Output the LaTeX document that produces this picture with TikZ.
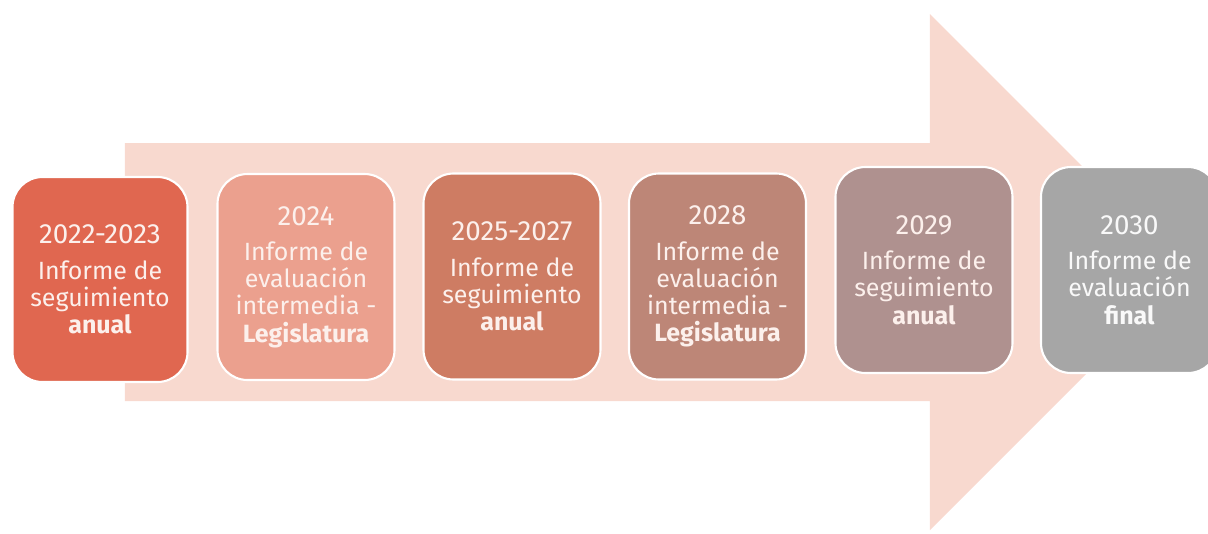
\documentclass[tikz,border=0pt]{standalone}
\usepackage{fontspec}
\setmainfont{Fira Sans}
\definecolor{arrowpink}{HTML}{F8D9CF}
\definecolor{boxA}{HTML}{E06750}
\definecolor{boxB}{HTML}{EBA08E}
\definecolor{boxC}{HTML}{CE7C63}
\definecolor{boxD}{HTML}{BD8677}
\definecolor{boxE}{HTML}{AF918F}
\definecolor{boxF}{HTML}{A6A6A6}
\definecolor{paletext}{HTML}{FCF0EC}
\newcommand{\yr}[1]{{\fontsize{7.9}{7.9}\selectfont #1}\\[2.4pt]}
\tikzset{
  yearbox/.style={draw=white, line width=0.6pt, rounded corners=0.3cm,
    minimum width=1.77cm, minimum height=2.06cm, align=center,
    text=paletext, font=\fontsize{7.1}{7.7}\selectfont, inner sep=0pt}
}
\begin{document}
\begin{tikzpicture}
  \useasboundingbox (0,0) rectangle (12.08,5.33);
  % the big arrow behind the boxes
  \fill[arrowpink] (1.25,3.90) -- (9.30,3.90) -- (9.30,5.19) -- (11.88,2.61)
    -- (9.30,0.03) -- (9.30,1.32) -- (1.25,1.32) -- cycle;
  % the six reports
  \node[yearbox, fill=boxA, minimum width=1.75cm, minimum height=2.05cm] (y2022) at (1.00,2.535)
    {\yr{2022-2023}Informe de\\seguimiento\\\textbf{anual}};
  \node[yearbox, fill=boxB] (y2024) at (3.06,2.56)
    {\yr{2024}Informe de\\evaluación\\intermedia -\\\textbf{Legislatura}};
  \node[yearbox, fill=boxC] (y2025) at (5.12,2.565)
    {\yr{2025-2027}Informe de\\seguimiento\\\textbf{anual}};
  \node[yearbox, fill=boxD] (y2028) at (7.175,2.565)
    {\yr{2028}Informe de\\evaluación\\intermedia -\\\textbf{Legislatura}};
  \node[yearbox, fill=boxE] (y2029) at (9.24,2.63)
    {\yr{2029}Informe de\\seguimiento\\\textbf{anual}};
  \node[yearbox, fill=boxF, text=white!95!gray] (y2030) at (11.295,2.63)
    {\yr{2030}Informe de\\evaluación\\\textbf{final}};
\end{tikzpicture}
\end{document}
